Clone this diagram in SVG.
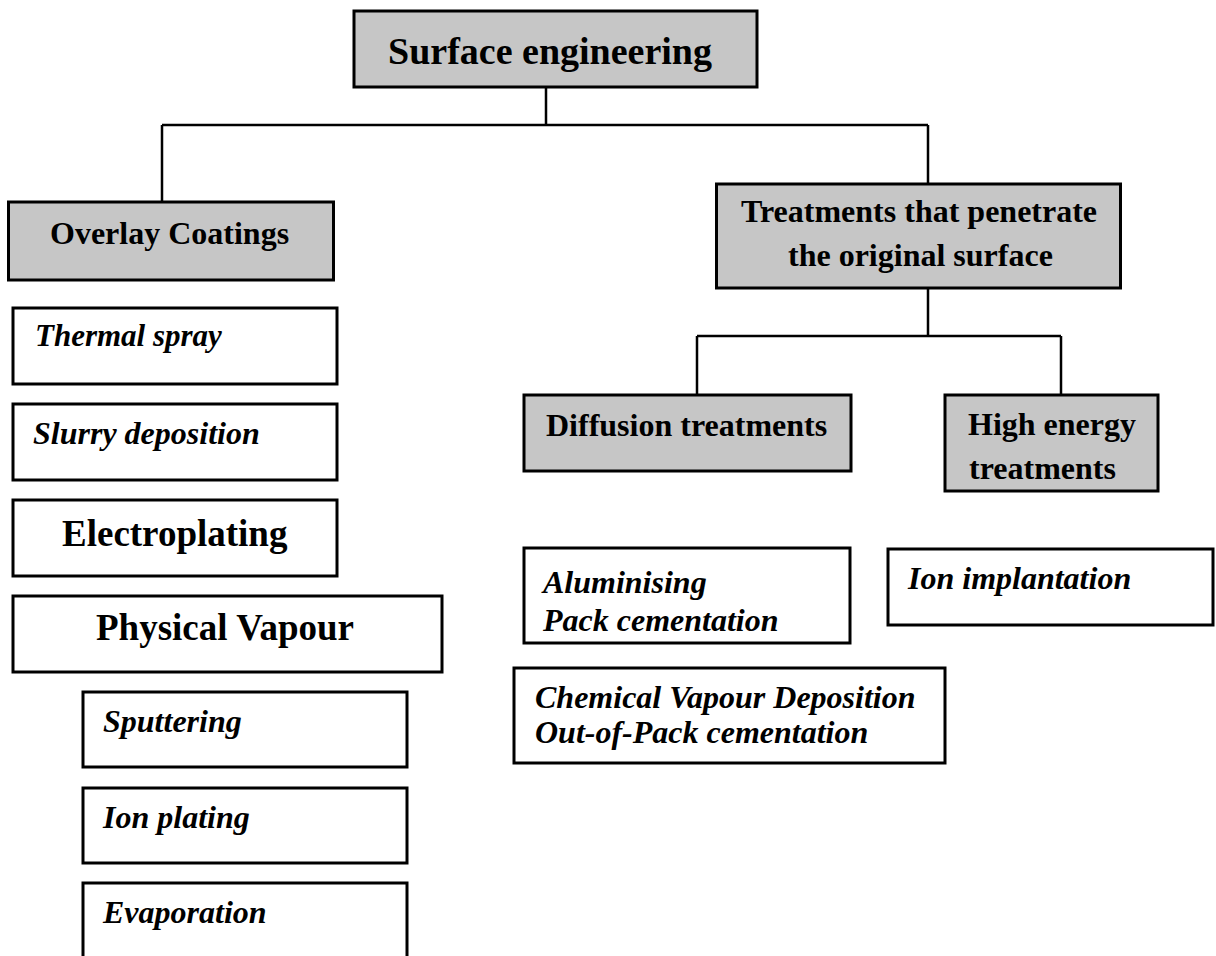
<svg xmlns="http://www.w3.org/2000/svg" width="1216" height="956" viewBox="0 0 1216 956">
<style>
  .gray { fill: #c6c6c6; stroke: #000; stroke-width: 3; }
  .white { fill: #fff; stroke: #000; stroke-width: 3; }
  .b { font-family: 'Liberation Serif', serif; font-weight: 700; fill: #000; }
  .bi { font-family: 'Liberation Serif', serif; font-weight: 700; font-style: italic; fill: #000; }
  .conn { stroke: #000; stroke-width: 2.5; fill: none; }
</style>
<rect width="1216" height="956" fill="#fff"/>
<g id="connectors">
  <path class="conn" d="M546 88 V125 M162 125 H928 M162 125 V201 M928 125 V183"/>
  <path class="conn" d="M928 289 V336 M697 336 H1061 M697 336 V394 M1061 336 V394"/>
</g>
<g id="surface-engineering">
  <rect class="gray" x="354" y="11" width="403" height="76"/>
  <text class="b" x="388" y="64" font-size="38">Surface engineering</text>
</g>
<g id="overlay-coatings">
  <rect class="gray" x="8.5" y="202" width="325" height="78"/>
  <text class="b" x="50" y="244" font-size="32">Overlay Coatings</text>
</g>
<g id="treatments">
  <rect class="gray" x="716.5" y="184" width="404" height="104"/>
  <text class="b" x="741" y="222" font-size="32">Treatments that penetrate</text>
  <text class="b" x="788" y="266" font-size="32">the original surface</text>
</g>
<g id="thermal-spray">
  <rect class="white" x="13" y="308" width="324" height="76"/>
  <text class="bi" x="35" y="346" font-size="31">Thermal spray</text>
</g>
<g id="slurry-deposition">
  <rect class="white" x="13" y="404" width="324" height="76"/>
  <text class="bi" x="33" y="444" font-size="32">Slurry deposition</text>
</g>
<g id="electroplating">
  <rect class="white" x="13" y="500" width="324" height="76"/>
  <text class="b" x="62" y="546" font-size="37">Electroplating</text>
</g>
<g id="physical-vapour">
  <rect class="white" x="13" y="596" width="429" height="76"/>
  <text class="b" x="96" y="640" font-size="37">Physical Vapour</text>
</g>
<g id="sputtering">
  <rect class="white" x="83" y="692" width="324" height="75"/>
  <text class="bi" x="103" y="732" font-size="32">Sputtering</text>
</g>
<g id="ion-plating">
  <rect class="white" x="83" y="788" width="324" height="75"/>
  <text class="bi" x="103" y="828" font-size="32">Ion plating</text>
</g>
<g id="evaporation">
  <rect class="white" x="83" y="883" width="324" height="100"/>
  <text class="bi" x="103" y="923" font-size="32">Evaporation</text>
</g>
<g id="diffusion-treatments">
  <rect class="gray" x="524" y="395" width="327" height="76"/>
  <text class="b" x="546" y="436" font-size="32">Diffusion treatments</text>
</g>
<g id="high-energy-treatments">
  <rect class="gray" x="945" y="395" width="213" height="96"/>
  <text class="b" x="968" y="435" font-size="32">High energy</text>
  <text class="b" x="969" y="479" font-size="32">treatments</text>
</g>
<g id="aluminising">
  <rect class="white" x="524" y="548" width="326" height="95"/>
  <text class="bi" x="543" y="593" font-size="32">Aluminising</text>
  <text class="bi" x="543" y="631" font-size="32">Pack cementation</text>
</g>
<g id="cvd">
  <rect class="white" x="514" y="668" width="431" height="95"/>
  <text class="bi" x="535" y="708" font-size="32">Chemical Vapour Deposition</text>
  <text class="bi" x="535" y="743" font-size="32">Out-of-Pack cementation</text>
</g>
<g id="ion-implantation">
  <rect class="white" x="888" y="549" width="325" height="76"/>
  <text class="bi" x="908" y="589" font-size="32">Ion implantation</text>
</g>
</svg>
